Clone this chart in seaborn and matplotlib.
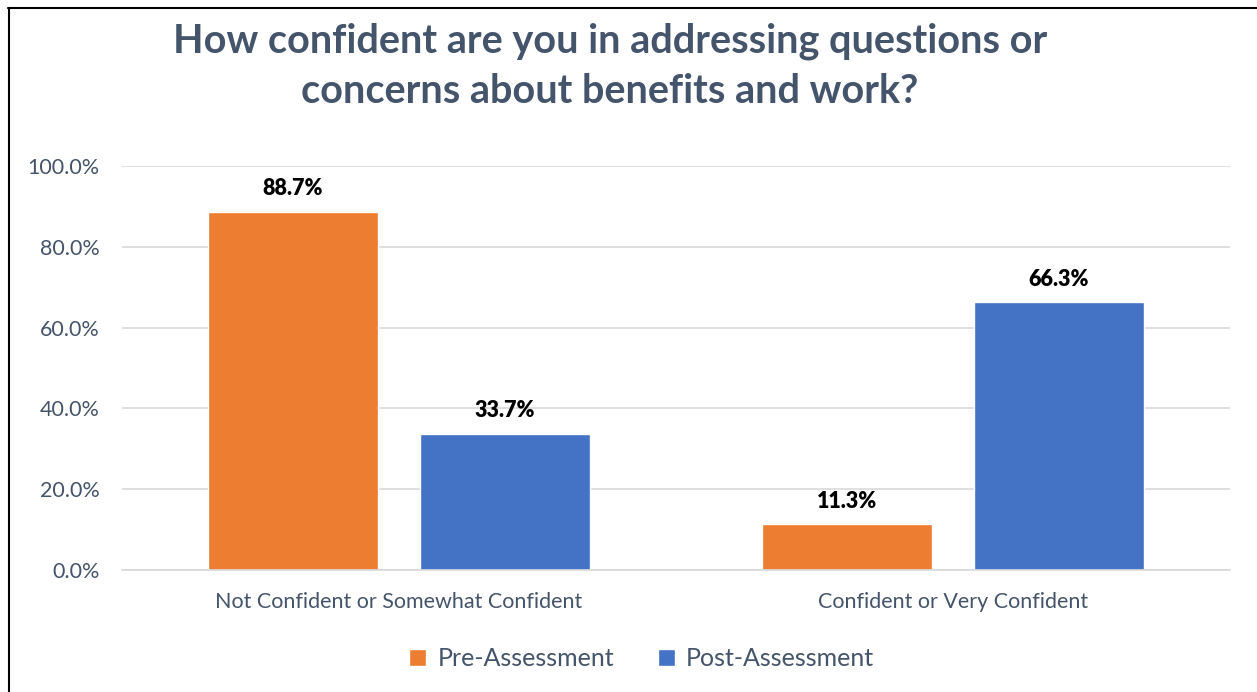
import matplotlib
matplotlib.use("Agg")
import matplotlib.pyplot as plt
import pandas as pd
import seaborn as sns
from matplotlib.lines import Line2D
from matplotlib.ticker import FuncFormatter, MultipleLocator

# Survey results (percent of respondents)
categories = ["Not Confident or Somewhat Confident", "Confident or Very Confident"]
series = ["Pre-Assessment", "Post-Assessment"]
pre_values = [88.7, 11.3]
post_values = [33.7, 66.3]
colors = ["#ED7D31", "#4472C4"]
title = "How confident are you in addressing questions or\nconcerns about benefits and work?"

df = pd.DataFrame({
    "category": categories * 2,
    "assessment": [series[0]] * len(categories) + [series[1]] * len(categories),
    "value": pre_values + post_values,
})

sns.set_theme(style="white")
plt.rcParams["font.family"] = ["Lato", "DejaVu Sans"]

text_color = "#44546A"
grid_color = "#D9D9D9"

W, H = 1257, 692
fig = plt.figure(figsize=(W / 100, H / 100), dpi=100)
ax = fig.add_axes([122 / W, 122 / H, 1108 / W, 404 / H])

sns.barplot(data=df, x="category", y="value", hue="assessment",
            palette=colors, width=0.766, gap=0.2, ax=ax,
            saturation=1, legend=True)

ax.set_ylim(0, 100)
ax.set_xlim(-0.5, 1.5)
ax.yaxis.set_major_locator(MultipleLocator(20))
ax.yaxis.set_major_formatter(FuncFormatter(lambda v, _: f"{v:.1f}%"))
ax.grid(axis="y", color=grid_color, linewidth=1.2)
ax.set_axisbelow(True)
for side in ["left", "right", "top"]:
    ax.spines[side].set_visible(False)
ax.spines["bottom"].set_color(grid_color)
ax.spines["bottom"].set_linewidth(1.2)
ax.tick_params(axis="both", length=0, labelsize=15.5, colors=text_color)
ax.tick_params(axis="y", pad=16)
ax.tick_params(axis="x", pad=16)
ax.set_xlabel("")
ax.set_ylabel("")

for container in ax.containers:
    ax.bar_label(container, labels=[f"{b.get_height():.1f}%" for b in container],
                 padding=9, fontsize=15.5, fontweight="heavy", color="black")

handles, labels = ax.get_legend_handles_labels()
ax.legend(handles, labels, loc="center", bbox_to_anchor=(0.469, -0.22),
          ncol=2, frameon=False, fontsize=18, handlelength=0.68, handleheight=0.68,
          handletextpad=0.45, columnspacing=1.75, labelcolor=text_color)

fig.text(610 / W, 1 - 66 / H, title, ha="center", va="center", fontsize=28.5,
         fontweight="bold", color=text_color, linespacing=1.45)

# Chart frame edges
fig.add_artist(Line2D([8 / W, 1], [1 - 8 / H, 1 - 8 / H], color="black", linewidth=1.5,
                      transform=fig.transFigure))
fig.add_artist(Line2D([9 / W, 9 / W], [0, 1 - 8 / H], color="black", linewidth=1.5,
                      transform=fig.transFigure))

fig.savefig("out.png", dpi=100, facecolor="white")
